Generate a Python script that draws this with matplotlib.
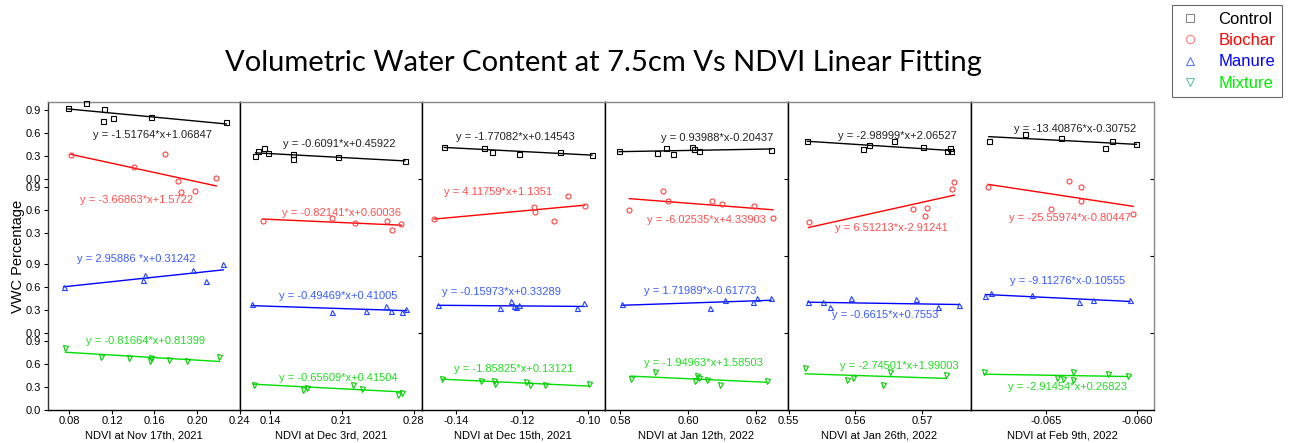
import numpy as np
import matplotlib.pyplot as plt
from matplotlib.lines import Line2D

# NDVI dates (one panel each)
dates = ['Nov 17th, 2021', 'Dec 3rd, 2021', 'Dec 15th, 2021',
         'Jan 12th, 2022', 'Jan 26th, 2022', 'Feb 9th, 2022']

# VWC values are read against each stacked layer's own 0.0-0.9 ticks
ctrl_x = [[0.0785, 0.0957, 0.1127, 0.1114, 0.1205, 0.1566, 0.2276],
          [0.1256, 0.1280, 0.1338, 0.1380, 0.1622, 0.1622, 0.2064, 0.2715],
          [-0.1436, -0.1317, -0.1293, -0.1209, -0.1085, -0.0989],
          [0.5797, 0.5908, 0.5935, 0.5955, 0.6012, 0.6018, 0.6031, 0.6244],
          [0.5528, 0.5612, 0.5621, 0.5658, 0.5701, 0.5737, 0.5741, 0.5743],
          [-0.06815, -0.06614, -0.06418, -0.06176, -0.06139, -0.06002]]
ctrl_y = [[0.92, 0.99, 0.91, 0.75, 0.79, 0.80, 0.74],
          [0.30, 0.36, 0.40, 0.34, 0.32, 0.26, 0.28, 0.24],
          [0.42, 0.40, 0.35, 0.32, 0.35, 0.31],
          [0.36, 0.34, 0.40, 0.33, 0.41, 0.39, 0.37, 0.38],
          [0.49, 0.39, 0.44, 0.49, 0.41, 0.36, 0.40, 0.36],
          [0.50, 0.58, 0.53, 0.40, 0.50, 0.45]]

bio_x = [[0.0813, 0.1403, 0.1695, 0.1817, 0.1845, 0.1977, 0.2181],
         [0.1329, 0.1999, 0.2227, 0.2540, 0.2591, 0.2682],
         [-0.1466, -0.1163, -0.1161, -0.1105, -0.1062, -0.1011],
         [0.5827, 0.5927, 0.5942, 0.6070, 0.6098, 0.6193, 0.6249],
         [0.5530, 0.5686, 0.5705, 0.5708, 0.5745, 0.5748],
         [-0.06819, -0.06474, -0.06375, -0.06309, -0.06306, -0.06020]]
bio_y = [[1.31, 1.15, 1.33, 0.97, 0.83, 0.84, 1.01],
         [0.46, 0.49, 0.43, 0.45, 0.34, 0.41],
         [0.485, 0.635, 0.57, 0.46, 0.78, 0.65],
         [0.60, 0.84, 0.71, 0.72, 0.68, 0.65, 0.49],
         [0.44, 0.615, 0.515, 0.62, 0.875, 0.96],
         [0.90, 0.61, 0.98, 0.90, 0.71, 0.54]]

man_x = [[0.0744, 0.1491, 0.1510, 0.1962, 0.2084, 0.2247],
         [0.1221, 0.2003, 0.2335, 0.2530, 0.2579, 0.2692, 0.2731],
         [-0.1455, -0.1266, -0.1234, -0.1226, -0.1219, -0.1209, -0.1033, -0.1014],
         [0.5805, 0.6063, 0.6107, 0.6190, 0.6202, 0.6243],
         [0.5529, 0.5552, 0.5562, 0.5593, 0.5691, 0.5723, 0.5755],
         [-0.06834, -0.06802, -0.06575, -0.06317, -0.06243, -0.06038]]
man_y = [[0.60, 0.69, 0.75, 0.82, 0.68, 0.89],
         [0.38, 0.27, 0.29, 0.35, 0.29, 0.27, 0.31],
         [0.37, 0.32, 0.42, 0.35, 0.34, 0.36, 0.32, 0.39],
         [0.38, 0.33, 0.43, 0.40, 0.46, 0.45],
         [0.40, 0.40, 0.34, 0.455, 0.44, 0.34, 0.37],
         [0.48, 0.52, 0.50, 0.40, 0.43, 0.43]]

mix_x = [[0.0762, 0.1096, 0.1356, 0.1560, 0.1567, 0.1732, 0.1908, 0.2210],
         [0.1237, 0.1725, 0.1758, 0.2213, 0.2301, 0.2647, 0.2686],
         [-0.1442, -0.1324, -0.1286, -0.1284, -0.1188, -0.1176, -0.1130, -0.0997],
         [0.5831, 0.5903, 0.6021, 0.6026, 0.6032, 0.6055, 0.6094, 0.6231],
         [0.5525, 0.5588, 0.5596, 0.5641, 0.5652, 0.5736],
         [-0.06841, -0.06441, -0.06408, -0.0635, -0.0635, -0.06156, -0.0605]]
mix_y = [[0.81, 0.69, 0.68, 0.63, 0.67, 0.65, 0.63, 0.69],
         [0.33, 0.26, 0.29, 0.32, 0.27, 0.20, 0.22],
         [0.40, 0.38, 0.38, 0.34, 0.36, 0.32, 0.32, 0.335],
         [0.40, 0.50, 0.38, 0.44, 0.41, 0.39, 0.33, 0.38],
         [0.54, 0.39, 0.42, 0.33, 0.49, 0.46],
         [0.49, 0.42, 0.40, 0.49, 0.39, 0.47, 0.44]]

# fitted line value at first / last NDVI point (as drawn)
ctrl_fit = [(0.91, 0.715), (0.34, 0.235), (0.41, 0.31), (0.355, 0.39), (0.49, 0.37), (0.55, 0.45)]
bio_fit = [(1.32, 0.91), (0.48, 0.40), (0.48, 0.66), (0.745, 0.60), (0.37, 0.79), (0.93, 0.645)]
man_fit = [(0.60, 0.82), (0.355, 0.29), (0.36, 0.345), (0.36, 0.425), (0.40, 0.37), (0.50, 0.41)]
mix_fit = [(0.75, 0.63), (0.335, 0.235), (0.40, 0.31), (0.44, 0.36), (0.47, 0.41), (0.465, 0.435)]

ctrl_eq = ['y = -1.51764*x+1.06847', 'y = -0.6091*x+0.45922', 'y = -1.77082*x+0.14543',
           'y = 0.93988*x-0.20437', 'y = -2.98999*x+2.06527', 'y = -13.40876*x-0.30752']
bio_eq = ['y = -3.66863*x+1.5722', 'y = -0.82141*x+0.60036', 'y = 4.11759*x+1.1351',
          'y = -6.02535*x+4.33903', 'y = 6.51213*x-2.91241', 'y = -25.55974*x-0.80447']
man_eq = ['y = 2.95886 *x+0.31242', 'y = -0.49469*x+0.41005', 'y = -0.15973*x+0.33289',
          'y = 1.71989*x-0.61773', 'y = -0.6615*x+0.7553', 'y = -9.11276*x-0.10555']
mix_eq = ['y = -0.81664*x+0.81399', 'y = -0.65609*x+0.41504', 'y = -1.85825*x+0.13121',
          'y = -1.94963*x+1.58503', 'y = -2.74501*x+1.99003', 'y = -2.91454*x+0.26823']

x_ticks = [[0.08, 0.12, 0.16, 0.20, 0.24], [0.14, 0.21, 0.28], [-0.14, -0.12, -0.10],
           [0.58, 0.60, 0.62], [0.55, 0.56, 0.57], [-0.065, -0.060]]
x_ticklabels = [['0.08', '0.12', '0.16', '0.20', '0.24'], ['0.14', '0.21', '0.28'],
                ['-0.14', '-0.12', '-0.10'], ['0.58', '0.60', '0.62'],
                ['0.55', '0.56', '0.57'], ['-0.065', '-0.060']]

# layout
x_lims = [(0.0593, 0.2400), (0.1100, 0.2882), (-0.1504, -0.0951),
          (0.5754, 0.6293), (0.5499, 0.5773), (-0.06914, -0.05908)]
# equation label centres: (x, layer-relative y)
ctrl_lab = [(0.1576, 0.574), (0.2071, 0.453), (-0.1221, 0.548), (0.6086, 0.527), (0.5663, 0.553), (-0.06341, 0.652)]
bio_lab = [(0.1428, 0.723), (0.2100, 0.563), (-0.1272, 0.836), (0.6055, 0.463), (0.5654, 0.358), (-0.06368, 0.498)]
man_lab = [(0.1425, 0.963), (0.2067, 0.485), (-0.1262, 0.529), (0.6035, 0.541), (0.5644, 0.238), (-0.06383, 0.672)]
mix_lab = [(0.1520, 0.899), (0.2061, 0.413), (-0.1226, 0.534), (0.6045, 0.608), (0.5666, 0.577), (-0.06383, 0.296)]

series = [
    # x, y, fit, eq, label pos, layer offset, marker, marker color, line color, text color
    (ctrl_x, ctrl_y, ctrl_fit, ctrl_eq, ctrl_lab, 3, 's', 'black', 'black', '#222222'),
    (bio_x, bio_y, bio_fit, bio_eq, bio_lab, 2, 'o', '#ff4040', 'red', '#ff5050'),
    (man_x, man_y, man_fit, man_eq, man_lab, 1, '^', '#2040ff', 'blue', '#3a5cff'),
    (mix_x, mix_y, mix_fit, mix_eq, mix_lab, 0, 'v', '#00cc00', '#00dd00', '#22dd22'),
]

plt.rcParams['font.family'] = ['Liberation Sans', 'DejaVu Sans']

fig = plt.figure(figsize=(12.89, 4.43), dpi=100)
widths = [192, 182.4, 182.6, 183.4, 183, 182.6]
gs = fig.add_gridspec(1, 6, width_ratios=widths, left=47.5/1289, right=1153.5/1289,
                      bottom=33/443, top=341/443, wspace=0)

for i in range(6):
    ax = fig.add_subplot(gs[0, i])
    for xs, ys, fit, eq, lab, off, mk, mc, lc, tc in series:
        x = np.array(xs[i])
        y = np.array(ys[i]) + off
        ax.plot(x, y, linestyle='none', marker=mk, markersize=3.6, markerfacecolor='none',
                markeredgecolor=mc, markeredgewidth=0.8, clip_on=False, zorder=3)
        ax.plot([x.min(), x.max()], [fit[i][0] + off, fit[i][1] + off], color=lc, lw=1.0)
        ax.text(lab[i][0], lab[i][1] + off, eq[i], color=tc, fontsize=8,
                ha='center', va='center')
    ax.set_xlim(*x_lims[i])
    ax.set_ylim(0, 4.0)
    ax.set_xticks(x_ticks[i])
    ax.set_xticklabels(x_ticklabels[i], fontsize=8)
    ax.set_xlabel('NDVI at ' + dates[i], fontsize=8, labelpad=3)
    ax.tick_params(axis='x', length=3, width=0.8, pad=1.5)
    ax.spines['top'].set_color('#888888')
    ax.spines['left'].set_color('black')
    ax.spines['right'].set_color('black')
    for s in ax.spines.values():
        s.set_linewidth(1.0)
    if i == 0:
        yt = [0.0, 0.3, 0.6, 0.9, 1.0, 1.3, 1.6, 1.9, 2.3, 2.6, 2.9, 3.0, 3.3, 3.6, 3.9]
        yl = ['0.0', '0.3', '0.6', '0.9', '0.0', '0.3', '0.6', '0.9', '0.3', '0.6', '0.9',
              '0.0', '0.3', '0.6', '0.9']
        ax.set_yticks(yt)
        ax.set_yticklabels(yl, fontsize=8)
        ax.tick_params(axis='y', length=3, width=0.8, pad=2)
        ax.spines['left'].set_color('#333333')
    else:
        ax.set_yticks([1, 2, 3])
        ax.tick_params(axis='y', left=False, labelleft=False, right=(i % 2 == 1),
                       direction='in', length=3, width=0.8)
    if i == 5:
        ax.spines['right'].set_color('#888888')

fig.text(0.014, (33 + 154) / 443, 'VWC Percentage', rotation=90, fontsize=10.5,
         ha='center', va='center')
fig.text(603 / 1289, 1 - 63 / 443, 'Volumetric Water Content at 7.5cm Vs NDVI Linear Fitting',
         fontsize=21, family=['Lato', 'DejaVu Sans'], ha='center', va='center')

handles = [
    Line2D([], [], ls='none', marker='s', markersize=6, mfc='none', mec='#888888', mew=0.8),
    Line2D([], [], ls='none', marker='o', markersize=6, mfc='none', mec='#ff8080', mew=0.8),
    Line2D([], [], ls='none', marker='^', markersize=6, mfc='none', mec='#5a7cff', mew=0.8),
    Line2D([], [], ls='none', marker='v', markersize=6, mfc='none', mec='#5fc29a', mew=0.8),
]
leg = fig.legend(handles, ['Control', 'Biochar', 'Manure', 'Mixture'],
                 loc='upper right', bbox_to_anchor=(1282 / 1289, 1 - 5 / 443),
                 borderaxespad=0, fontsize=12, labelcolor=['black', 'red', 'blue', '#00ee00'],
                 frameon=True, fancybox=False, edgecolor='#444444', borderpad=0.4,
                 labelspacing=0.38, handletextpad=1.0, handlelength=1.4)
leg.get_frame().set_linewidth(0.8)

fig.savefig('out.png', dpi=100)
